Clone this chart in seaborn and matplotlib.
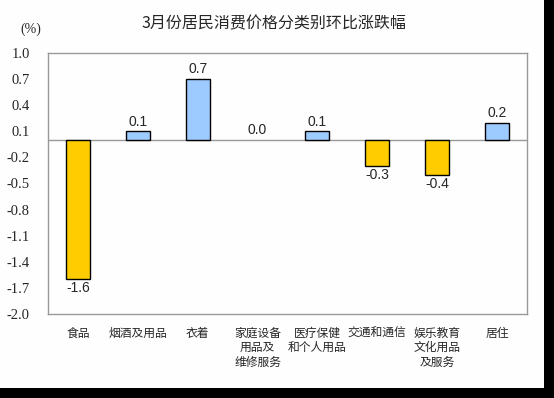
import matplotlib
matplotlib.use('Agg')
import matplotlib.pyplot as plt
import seaborn as sns
import pandas as pd
from matplotlib.patches import Rectangle

# data
categories = ['食品', '烟酒及用品', '衣着', '家庭设备\n用品及\n维修服务',
              '医疗保健\n和个人用品', '交通和通信', '娱乐教育\n文化用品\n及服务', '居住']
values = [-1.6, 0.1, 0.7, 0.0, 0.1, -0.3, -0.4, 0.2]
value_labels = ['-1.6', '0.1', '0.7', '0.0', '0.1', '-0.3', '-0.4', '0.2']
yticks = [1.0, 0.7, 0.4, 0.1, -0.2, -0.5, -0.8, -1.1, -1.4, -1.7, -2.0]
title = '3月份居民消费价格分类别环比涨跌幅'

sns.set_style('white')
plt.rcParams['font.family'] = ['Noto Sans CJK SC', 'DejaVu Sans']
plt.rcParams['axes.unicode_minus'] = False

up_col = '#9DCBFF'
down_col = '#FFCC00'
colors = [down_col if v < 0 else up_col for v in values]

df = pd.DataFrame({'cat': categories, 'val': values})

fig = plt.figure(figsize=(5.54, 3.98), dpi=100)
fig.patch.set_facecolor('black')
# white page area, black strip right and bottom as in the source image
fig.patches.append(Rectangle((0, 10 / 398), 544 / 554, 1, transform=fig.transFigure,
                             facecolor='#FDFEFD', edgecolor='none', zorder=-5))
ax = fig.add_axes([48 / 554, 1 - 314 / 398, 479 / 554, 261 / 398])
ax.set_facecolor('#FDFEFD')

sns.barplot(data=df, x='cat', y='val', hue='cat', palette=colors, legend=False,
            width=0.4, edgecolor='black', linewidth=1.0, saturation=1, ax=ax)
# a zero-height bar shows no outline in the original
for p in ax.patches:
    if p.get_height() == 0:
        p.set_linewidth(0)

for i, (v, lab) in enumerate(zip(values, value_labels)):
    if v >= 0:
        ax.text(i, v + 0.03, lab, ha='center', va='bottom', fontsize=10,
                family='Liberation Sans')
    else:
        ax.text(i, v - 0.02, lab, ha='center', va='top', fontsize=10,
                family='Liberation Sans')

ax.axhline(0, color='#999999', linewidth=1.0, zorder=0.5)
ax.set_ylim(-2.0, 1.0)
ax.set_xlim(-0.5, len(categories) - 0.5)
ax.set_yticks(yticks)
ax.set_yticklabels(['%.1f' % t for t in yticks], family='Liberation Serif', fontsize=10.5)
ax.set_xticks(range(len(categories)))
ax.set_xticklabels(categories, fontsize=8.5, linespacing=1.15, va='top')
ax.tick_params(axis='y', length=0, pad=13)
ax.tick_params(axis='x', length=0, pad=9)
ax.set_xlabel('')
ax.set_ylabel('')
for s in ax.spines.values():
    s.set_color('#999999')
    s.set_linewidth(1.0)

fig.text(274 / 554, 1 - 24 / 398, title, ha='center', va='center', fontsize=11.5)
fig.text(31 / 554, 1 - 29 / 398, '(%)', ha='center', va='center', fontsize=10,
         family='Liberation Serif')

fig.savefig('out.png', dpi=100, facecolor=fig.get_facecolor())
